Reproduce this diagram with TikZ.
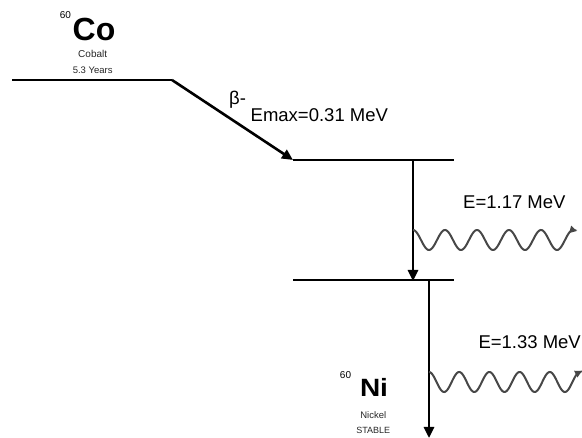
\documentclass[tikz,border=0pt]{standalone}
\usepackage{fontspec}
\setmainfont{Liberation Sans}
\usetikzlibrary{arrows.meta}
\tikzset{
  level/.style={line width=2.8pt},
  trans/.style={line width=2.6pt,-{Triangle[length=11pt,width=10pt]}},
  wave/.style={line width=2pt,-{Triangle[length=7pt,width=7pt]},color=black!72},
  lbl/.style={inner sep=0pt,anchor=base west,font=\fontsize{18.5}{20}\selectfont},
  sym/.style={inner sep=0pt,anchor=base,font=\bfseries\fontsize{32}{33}\selectfont},
  small/.style={inner sep=0pt,anchor=base,font=\fontsize{9.5}{10}\selectfont,text=black!85},
}
\begin{document}
\begin{tikzpicture}[x=1pt,y=-1pt]
\useasboundingbox (0,0) rectangle (582,438);
% Co
\node[inner sep=0pt,font=\fontsize{10}{10}\selectfont] (co60) at (65.5,15.5) {60};
\node[sym] (co) at (94,41) {Co};
\node[small,font=\fontsize{10}{10}\selectfont] (cobalt) at (92.7,57.3) {Cobalt};
\node[small] (years) at (92.7,74) {5.3 Years};
% levels
\coordinate (coL) at (12,80);
\coordinate (coR) at (172,80);
\coordinate (l1L) at (293,160);
\coordinate (l1R) at (454,160);
\coordinate (l2L) at (293,280);
\coordinate (l2R) at (454,280);
\draw[level] (coL) -- (coR);
\draw[level] (l1L) -- (l1R);
\draw[level] (l2L) -- (l2R);
% beta
\draw[trans] (coR) -- (l1L);
\node[lbl,anchor=base west] (beta) at (229,105) {β-};
\node[lbl] (emax) at (250.5,121.7) {Emax=0.31 MeV};
% gamma 1
\coordinate (g1top) at (413,160);
\coordinate (g1bot) at (413,281);
\draw[trans] (g1top) -- (g1bot);
\draw[wave] plot[domain=0:5,samples=150,smooth] ({413+\x*32},{240-10*cos(\x*360)}) -- (577,231);
\node[lbl] (e1) at (463,208.3) {E=1.17 MeV};
% gamma 2
\coordinate (g2top) at (429,280);
\coordinate (g2bot) at (429,438);
\draw[trans] (g2top) -- (g2bot);
\draw[wave] plot[domain=0:5,samples=150,smooth] ({429+\x*30.2},{382-10*cos(\x*360)}) -- (582,371);
\node[lbl] (e2) at (478.3,348.3) {E=1.33 MeV};
% Ni
\node[inner sep=0pt,font=\fontsize{10}{10}\selectfont] (ni60) at (345.5,375) {60};
\node[sym,font=\bfseries\fontsize{25}{26}\selectfont] (ni) at (374,397) {\scalebox{1.12}[1]{Ni}};
\node[small,font=\fontsize{9.5}{10}\selectfont] (nickel) at (373.3,418.3) {Nickel};
\node[small,font=\fontsize{9}{9}\selectfont] (stable) at (373.3,433.3) {STABLE};
\end{tikzpicture}
\end{document}
